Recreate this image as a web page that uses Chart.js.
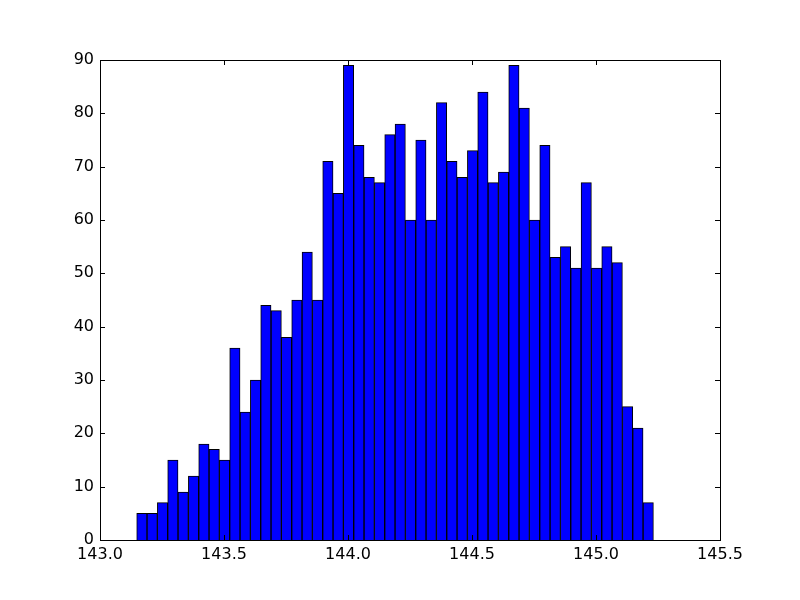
<!DOCTYPE html>
<html>
<head>
<meta charset="utf-8">
<script src="https://cdn.jsdelivr.net/npm/chart.js@4/dist/chart.umd.min.js"></script>
<style>
  html, body { margin: 0; padding: 0; background: #fff; }
  #wrap { width: 800px; height: 600px; }
</style>
</head>
<body>
<div id="wrap"><canvas id="c" width="800" height="600"></canvas></div>
<script>
// histogram bins
const binStart = 143.148
const binWidth = 0.04167
const counts = [5, 5, 7, 15, 9, 12, 18, 17, 15, 36,
                24, 30, 44, 43, 38, 45, 54, 45, 71, 65,
                89, 74, 68, 67, 76, 78, 60, 75, 60, 82,
                71, 68, 73, 84, 67, 69, 89, 81, 60, 74,
                53, 55, 51, 67, 51, 55, 52, 25, 21, 7]
const xTicks = [143.0, 143.5, 144.0, 144.5, 145.0, 145.5]
const yTicks = [0, 10, 20, 30, 40, 50, 60, 70, 80, 90]

const points = counts.map((v, i) => ({ x: binStart + (i + 0.5) * binWidth, y: v }))

// inside ticks on all four sides + frame, like matplotlib classic
const frame = {
    id: 'frame',
    afterDatasetsDraw(chart) {
        const { ctx, chartArea: a, scales } = chart
        const len = 5
        ctx.save()
        ctx.strokeStyle = '#000'
        ctx.lineWidth = 1
        ctx.beginPath()
        xTicks.forEach(t => {
            const px = Math.round(scales.x.getPixelForValue(t)) + 0.5
            ctx.moveTo(px, a.bottom); ctx.lineTo(px, a.bottom - len)
            ctx.moveTo(px, a.top); ctx.lineTo(px, a.top + len)
        })
        yTicks.forEach(t => {
            const py = Math.round(scales.y.getPixelForValue(t)) + 0.5
            ctx.moveTo(a.left, py); ctx.lineTo(a.left + len, py)
            ctx.moveTo(a.right, py); ctx.lineTo(a.right - len, py)
        })
        ctx.stroke()
        ctx.strokeRect(Math.round(a.left) + 0.5, Math.round(a.top) + 0.5,
                       Math.round(a.right - a.left), Math.round(a.bottom - a.top))
        ctx.restore()
    }
}

Chart.defaults.font.family = 'DejaVu Sans'
Chart.defaults.font.size = 16
Chart.defaults.color = '#000'

new Chart(document.getElementById('c'), {
    type: 'bar',
    data: {
        datasets: [{
            data: points,
            backgroundColor: '#0000ff',
            borderColor: '#000',
            borderWidth: 1,
            barPercentage: 1.0,
            categoryPercentage: 1.0
        }]
    },
    options: {
        responsive: false,
        animation: false,
        layout: { padding: { left: 0, top: 60, right: 80, bottom: 0 } },
        plugins: { legend: { display: false }, tooltip: { enabled: false } },
        scales: {
            x: {
                type: 'linear',
                min: 143.0,
                max: 145.5,
                offset: false,
                grid: { display: false, drawTicks: false },
                border: { display: false },
                afterBuildTicks(s) { s.ticks = xTicks.map(v => ({ value: v })) },
                afterFit(s) { s.height = 60 },
                ticks: {
                    padding: 5,
                    maxRotation: 0,
                    callback: v => Number(v).toFixed(1)
                }
            },
            y: {
                min: 0,
                max: 90,
                grid: { display: false, drawTicks: false },
                border: { display: false },
                afterBuildTicks(s) { s.ticks = yTicks.map(v => ({ value: v })) },
                afterFit(s) { s.width = 100 },
                ticks: { padding: 6 }
            }
        }
    },
    plugins: [frame]
})
</script>
</body>
</html>
